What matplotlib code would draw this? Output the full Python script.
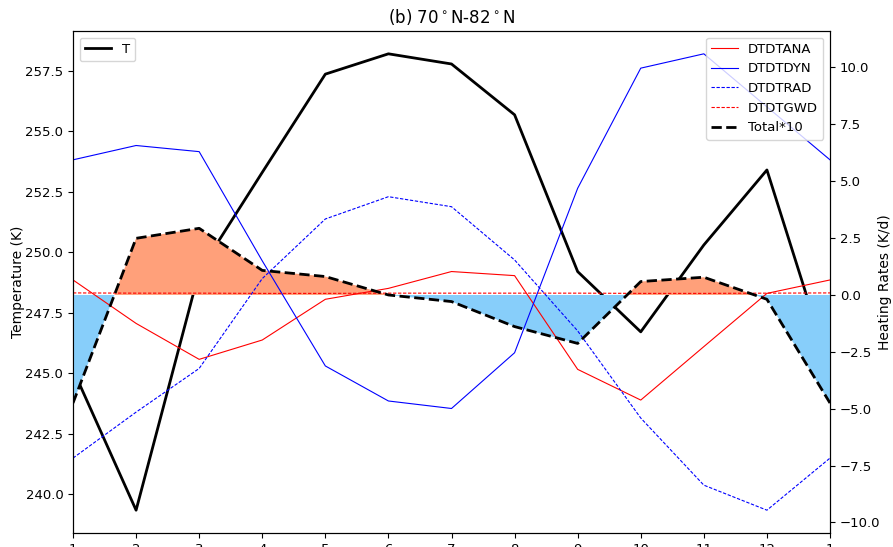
import numpy as np
import matplotlib
matplotlib.use("Agg")
import matplotlib.pyplot as plt

# Monthly cycle, January repeated at the end
months = np.arange(1, 14)
month_labels = ["1", "2", "3", "4", "5", "6", "7", "8", "9", "10", "11", "12", "1"]

# Zonal-mean temperature (K)
T = [245.15, 239.34, 249.2, 253.3, 257.36, 258.2, 257.78, 255.68, 249.2, 246.71, 250.3, 253.4, 245.15]

# Heating rates (K/d)
dtdtana = [0.66, -1.25, -2.83, -1.98, -0.19, 0.29, 1.03, 0.85, -3.27, -4.62, -2.27, 0.07, 0.66]
dtdtdyn = [5.94, 6.57, 6.30, 1.50, -3.12, -4.66, -4.99, -2.54, 4.69, 9.97, 10.6, 8.27, 5.94]
dtdtrad = [-7.17, -5.15, -3.23, 0.72, 3.34, 4.32, 3.88, 1.54, -1.58, -5.41, -8.36, -9.46, -7.17]
dtdtgwd = [0.09, 0.08, 0.08, 0.07, 0.07, 0.08, 0.08, 0.08, 0.08, 0.07, 0.07, 0.08, 0.09]
total10 = [-4.75, 2.49, 2.93, 1.08, 0.81, 0.0, -0.29, -1.39, -2.13, 0.59, 0.78, -0.19, -4.75]

fig = plt.figure(figsize=(8.93, 5.47), dpi=100)
ax1 = fig.add_axes([73 / 893, 1 - 533 / 547, (830 - 73) / 893, (533 - 31) / 547])
ax2 = ax1.twinx()

fs = 9.5

ax1.plot(months, T, color="k", lw=2, label="T")
ax1.set_ylabel("Temperature (K)", fontsize=10)
ax1.yaxis.set_label_coords(-0.064, 0.5)
ax1.set_xlim(1, 13)
ax1.set_xticks(months)
ax1.set_xticklabels(month_labels)
ax1.tick_params(labelsize=fs)
ax1.legend(loc="upper left", fontsize=fs)

tot = np.array(total10)
ax2.fill_between(months, tot, 0, where=tot >= 0, interpolate=True,
                 color="lightsalmon", lw=0)
ax2.fill_between(months, tot, 0, where=tot <= 0, interpolate=True,
                 color="lightskyblue", lw=0)
ax2.plot(months, dtdtana, color="r", lw=0.8, label="DTDTANA")
ax2.plot(months, dtdtdyn, color="b", lw=0.8, label="DTDTDYN")
ax2.plot(months, dtdtrad, color="b", lw=0.8, ls="--", dashes=(3, 1.5), label="DTDTRAD")
ax2.plot(months, dtdtgwd, color="r", lw=0.8, ls="--", dashes=(3, 1.5), label="DTDTGWD")
ax2.plot(months, total10, color="k", lw=2, ls="--", label="Total*10")
ax2.set_ylabel("Heating Rates (K/d)", fontsize=10)
ax2.yaxis.set_label_coords(1.063, 0.5)
ax2.tick_params(labelsize=fs)
ax2.legend(loc="upper right", fontsize=fs)

ax1.set_title(r"(b) 70$^\circ$N-82$^\circ$N", fontsize=12)

fig.savefig("out.png", dpi=100)
